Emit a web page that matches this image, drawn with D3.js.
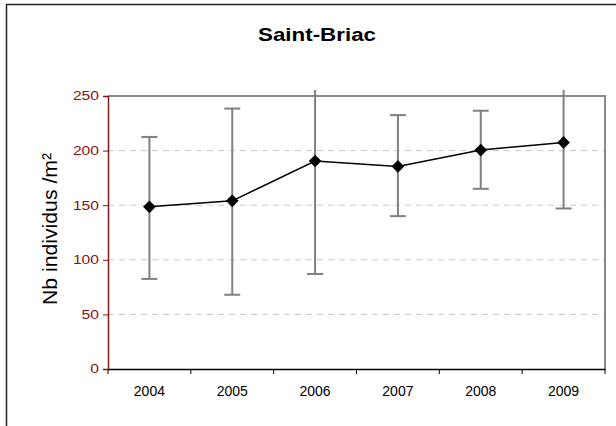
<!DOCTYPE html>
<html>
<head>
<meta charset="utf-8">
<script src="https://cdn.jsdelivr.net/npm/d3@7"></script>
<style>
  body { margin: 0; background: #fff; }
  svg { display: block; font-family: "Liberation Sans", Arial, sans-serif; }
</style>
</head>
<body>
<svg id="chart" width="616" height="426"></svg>
<script>
// data
var years = ["2004", "2005", "2006", "2007", "2008", "2009"];
var means = [148.5, 154, 190.5, 185.5, 200.5, 207.5];
var highs = [212.5, 238.5, 295, 232.5, 236.5, 268];
var lows = [82.5, 68, 87, 140, 165, 147];
var yTicks = [0, 50, 100, 150, 200, 250];

var svg = d3.select("#chart");
var pLeft = 108, pRight = 605, pTop = 96, pBottom = 369;

var x = d3.scaleBand().domain(years).range([pLeft, pRight]);
var y = d3.scaleLinear().domain([0, 250]).range([pBottom, pTop]);

// outer frame
svg.append("rect")
    .attr("x", 6.5).attr("y", 4.5)
    .attr("width", 640).attr("height", 460)
    .attr("fill", "none").attr("stroke", "#222").attr("stroke-width", 1.5);

// title (the original text is a bit wide, so stretch it)
svg.append("text")
    .attr("x", 317).attr("y", 41)
    .attr("text-anchor", "middle")
    .attr("textLength", 118).attr("lengthAdjust", "spacingAndGlyphs")
    .style("font-size", "19px").style("font-weight", "bold")
    .text("Saint-Briac");

// gridlines
svg.append("g").selectAll("line")
    .data(yTicks.filter(function(d){ return d > 0 && d < 250; }))
    .enter().append("line")
    .attr("x1", pLeft).attr("x2", pRight)
    .attr("y1", function(d){ return y(d); }).attr("y2", function(d){ return y(d); })
    .attr("stroke", "#c8c8c8").attr("stroke-dasharray", "6,5");

// top and right border of the plot
svg.append("path")
    .attr("d", "M" + pLeft + "," + y(250) + "H" + pRight + "V" + pBottom)
    .attr("fill", "none").attr("stroke", "#8a8a8a").attr("stroke-width", 2);

// x axis
var xAxis = svg.append("g")
    .attr("transform", "translate(0," + pBottom + ")")
    .call(d3.axisBottom(x).tickSize(0).tickPadding(17));
xAxis.select(".domain").attr("stroke", "#000").attr("stroke-width", 1.5);
xAxis.selectAll("text").style("font-size", "14px").attr("fill", "#000");
xAxis.selectAll(".bound").data(years.concat(["end"])).enter().append("line")
    .attr("class", "bound")
    .attr("x1", function(d, i){ return pLeft + i * x.step(); })
    .attr("x2", function(d, i){ return pLeft + i * x.step(); })
    .attr("y1", 0).attr("y2", 5)
    .attr("stroke", "#000");

// y axis
var yAxis = svg.append("g")
    .attr("transform", "translate(" + pLeft + ",0)")
    .call(d3.axisLeft(y).tickValues(yTicks).tickSize(5).tickPadding(4));
yAxis.select(".domain").attr("stroke", "#7a1a1a").attr("stroke-width", 1.5);
yAxis.selectAll(".tick line").attr("stroke", "#7a1a1a");
yAxis.selectAll("text")
    .style("font-size", "12px").attr("fill", "#8b1010")
    .attr("textLength", function(d){ return String(d).length * 8.7; })
    .attr("lengthAdjust", "spacingAndGlyphs");

svg.append("text")
    .attr("transform", "translate(57," + 229 + ") rotate(-90)")
    .attr("text-anchor", "middle")
    .attr("textLength", 152).attr("lengthAdjust", "spacingAndGlyphs")
    .style("font-size", "21px")
    .text("Nb individus /m²");

// error bars, clipped a bit above the plot like the original
svg.append("clipPath").attr("id", "clip")
    .append("rect").attr("x", 0).attr("y", 90).attr("width", 616).attr("height", 300);

var bars = svg.append("g").attr("clip-path", "url(#clip)");
var cx = function(i){ return x(years[i]) + x.bandwidth() / 2; };

years.forEach(function(yr, i){
    bars.append("line")
        .attr("x1", cx(i)).attr("x2", cx(i))
        .attr("y1", y(highs[i])).attr("y2", y(lows[i]))
        .attr("stroke", "#808080").attr("stroke-width", 2);
    [highs[i], lows[i]].forEach(function(v){
        bars.append("line")
            .attr("x1", cx(i) - 8).attr("x2", cx(i) + 8)
            .attr("y1", y(v)).attr("y2", y(v))
            .attr("stroke", "#808080").attr("stroke-width", 2);
    });
});

// mean line
var line = d3.line()
    .x(function(d, i){ return cx(i); })
    .y(function(d){ return y(d); });

svg.append("path")
    .datum(means)
    .attr("d", line)
    .attr("fill", "none").attr("stroke", "#000").attr("stroke-width", 1.5);

svg.append("g").selectAll("path")
    .data(means).enter().append("path")
    .attr("d", d3.symbol().type(d3.symbolSquare).size(80))
    .attr("transform", function(d, i){ return "translate(" + cx(i) + "," + y(d) + ") rotate(45)"; })
    .attr("fill", "#000");
</script>
</body>
</html>
